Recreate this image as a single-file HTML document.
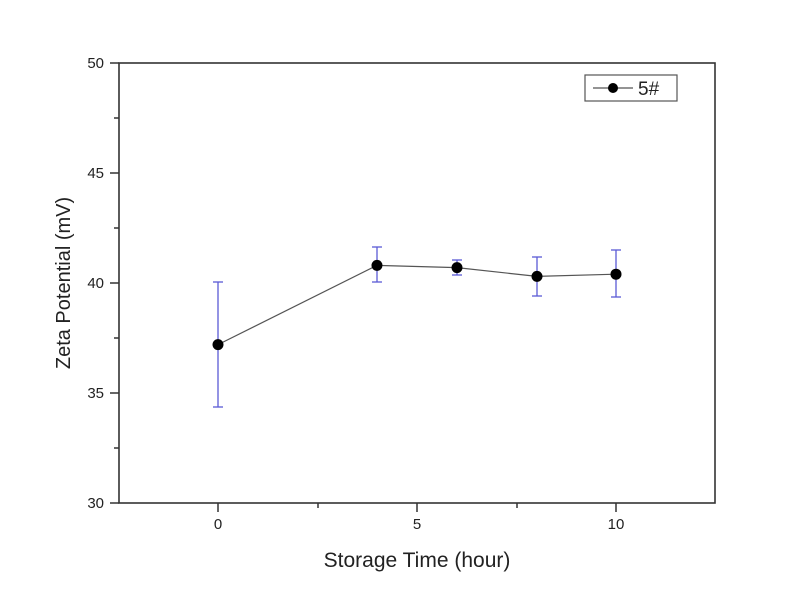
<!DOCTYPE html>
<html><head><style>body{margin:0;background:#fff}svg{display:block}</style></head><body>
<svg width="800" height="600" xmlns="http://www.w3.org/2000/svg" font-family="Liberation Sans, sans-serif">
<rect width="800" height="600" fill="#fff"/>
<rect x="119" y="63" width="596" height="440" fill="none" stroke="#333" stroke-width="1.6"/>
<g stroke="#333" stroke-width="1.5">
<line x1="218" y1="503" x2="218" y2="512"/><line x1="417" y1="503" x2="417" y2="512"/><line x1="616" y1="503" x2="616" y2="512"/>
<line x1="318" y1="503" x2="318" y2="508"/><line x1="517" y1="503" x2="517" y2="508"/>
<line x1="110" y1="63" x2="119" y2="63"/><line x1="110" y1="173" x2="119" y2="173"/><line x1="110" y1="283" x2="119" y2="283"/><line x1="110" y1="393" x2="119" y2="393"/><line x1="110" y1="503" x2="119" y2="503"/>
<line x1="114" y1="118" x2="119" y2="118"/><line x1="114" y1="228" x2="119" y2="228"/><line x1="114" y1="338" x2="119" y2="338"/><line x1="114" y1="448" x2="119" y2="448"/>
</g>
<g font-size="15" fill="#222" text-anchor="end">
<text x="104" y="68">50</text><text x="104" y="178">45</text><text x="104" y="288">40</text><text x="104" y="398">35</text><text x="104" y="508">30</text>
</g>
<g font-size="15" fill="#222" text-anchor="middle">
<text x="218" y="529">0</text><text x="417" y="529">5</text><text x="616" y="529">10</text>
</g>
<text x="417" y="567" font-size="21" fill="#222" text-anchor="middle">Storage Time (hour)</text>
<text transform="translate(70,283) rotate(-90)" font-size="20" fill="#222" text-anchor="middle">Zeta Potential (mV)</text>
<g stroke="#5b5bd6" stroke-width="1.3">
<line x1="218" y1="282" x2="218" y2="407"/><line x1="213" y1="282" x2="223" y2="282"/><line x1="213" y1="407" x2="223" y2="407"/>
<line x1="377" y1="247" x2="377" y2="282"/><line x1="372" y1="247" x2="382" y2="247"/><line x1="372" y1="282" x2="382" y2="282"/>
<line x1="457" y1="260" x2="457" y2="275"/><line x1="452" y1="260" x2="462" y2="260"/><line x1="452" y1="275" x2="462" y2="275"/>
<line x1="537" y1="257" x2="537" y2="296"/><line x1="532" y1="257" x2="542" y2="257"/><line x1="532" y1="296" x2="542" y2="296"/>
<line x1="616" y1="250" x2="616" y2="297"/><line x1="611" y1="250" x2="621" y2="250"/><line x1="611" y1="297" x2="621" y2="297"/>
</g>
<polyline points="218,344.6 377,265.4 457,267.6 537,276.4 616,274.2" fill="none" stroke="#555" stroke-width="1.2"/>
<g fill="#000">
<circle cx="218" cy="344.6" r="5.5"/><circle cx="377" cy="265.4" r="5.5"/><circle cx="457" cy="267.6" r="5.5"/><circle cx="537" cy="276.4" r="5.5"/><circle cx="616" cy="274.2" r="5.5"/>
</g>
<rect x="585" y="75" width="92" height="26" fill="#fff" stroke="#555" stroke-width="1.2"/>
<line x1="593" y1="88" x2="633" y2="88" stroke="#555" stroke-width="1.2"/>
<circle cx="613" cy="88" r="5" fill="#000"/>
<text x="638" y="95" font-size="19" fill="#222">5#</text>
</svg>
</body></html>
